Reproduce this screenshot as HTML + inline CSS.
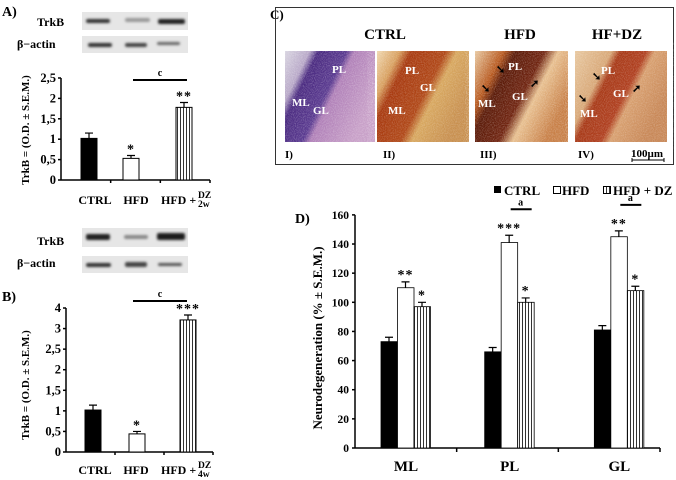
<!DOCTYPE html>
<html><head><meta charset="utf-8"><style>
body{margin:0;background:#fff}
svg{display:block;font-family:"Liberation Serif",serif;font-weight:bold}
</style></head><body>
<svg id="fig" width="676" height="480" viewBox="0 0 676 480">
<defs>
<pattern id="stripe" width="3" height="4" patternUnits="userSpaceOnUse"><rect width="3" height="4" fill="#fff"/><rect width="1" height="4" fill="#333"/></pattern>
<filter id="noise"><feTurbulence type="fractalNoise" baseFrequency="0.9" numOctaves="2" seed="3"/><feColorMatrix values="0 0 0 0 1  0 0 0 0 1  0 0 0 0 1  0 0 0 -1.6 1.0"/></filter>
<filter id="blur"><feGaussianBlur stdDeviation="1.2"/></filter>
</defs>

<text x="2" y="16" font-size="14">A)</text>
<text x="37" y="26" font-size="12">TrkB</text>
<text x="17" y="48" font-size="12">β−actin</text>
<g>
<rect x="82" y="12" width="106" height="18" fill="#e6e6e6"/>
<rect x="82" y="36" width="106" height="17" fill="#e6e6e6"/>
<g filter="url(#blur)">
<rect x="86" y="19" width="24" height="4" rx="2" fill="#333"/>
<rect x="125" y="18" width="25" height="4" rx="2" fill="#999"/>
<rect x="158" y="19" width="27" height="5" rx="2" fill="#222"/>
<rect x="88" y="43" width="24" height="4" rx="2" fill="#333"/>
<rect x="125" y="43" width="22" height="4" rx="2" fill="#444"/>
<rect x="157" y="42" width="23" height="3" rx="1.5" fill="#666"/>
</g></g>

<text x="37" y="245" font-size="12">TrkB</text>
<text x="17" y="267" font-size="12">β−actin</text>
<g>
<rect x="82" y="228" width="106" height="19" fill="#e6e6e6"/>
<rect x="82" y="256" width="106" height="17" fill="#e6e6e6"/>
<g filter="url(#blur)">
<rect x="86" y="234" width="24" height="6" rx="2" fill="#222"/>
<rect x="124" y="235" width="24" height="4" rx="2" fill="#888"/>
<rect x="157" y="233" width="28" height="7" rx="2" fill="#1a1a1a"/>
<rect x="86" y="263" width="25" height="4" rx="2" fill="#333"/>
<rect x="125" y="262" width="22" height="5" rx="2" fill="#444"/>
<rect x="158" y="263" width="24" height="3" rx="1.5" fill="#555"/>
</g></g>
<text x="2" y="301" font-size="14">B)</text>

<text x="270" y="19" font-size="13">C)</text>
<rect x="275.5" y="7.5" width="398" height="157" fill="none" stroke="#333"/>
<text x="385" y="39" font-size="15" text-anchor="middle">CTRL</text>
<text x="520" y="39" font-size="15" text-anchor="middle">HFD</text>
<text x="617" y="39" font-size="15" text-anchor="middle">HF+DZ</text>
<g>
<defs><linearGradient id="g1" x1="0" y1="0" x2="1" y2="0.5"><stop offset="0" stop-color="#d8d4e0"/><stop offset="0.22" stop-color="#b8a8c8"/><stop offset="0.3" stop-color="#4a2a80"/><stop offset="0.55" stop-color="#5a3a90"/><stop offset="0.62" stop-color="#b080b8"/><stop offset="1" stop-color="#c8a0c8"/></linearGradient></defs>
<rect x="285" y="51" width="90" height="91" fill="url(#g1)"/>
<rect x="285" y="51" width="90" height="91" filter="url(#noise)" opacity="0.35"/>
<text x="332" y="73" font-size="11" fill="#fff">PL</text><text x="292" y="106" font-size="11" fill="#fff">ML</text><text x="313" y="114" font-size="11" fill="#fff">GL</text>
</g>
<g>
<defs><linearGradient id="g2" x1="0" y1="0" x2="1" y2="0.5"><stop offset="0" stop-color="#f0d8b0"/><stop offset="0.2" stop-color="#d8a060"/><stop offset="0.3" stop-color="#a83a10"/><stop offset="0.6" stop-color="#b04818"/><stop offset="0.7" stop-color="#d8a860"/><stop offset="1" stop-color="#c89050"/></linearGradient></defs>
<rect x="377" y="51" width="92" height="91" fill="url(#g2)"/>
<rect x="377" y="51" width="92" height="91" filter="url(#noise)" opacity="0.3"/>
<text x="405" y="74" font-size="11" fill="#fff">PL</text><text x="420" y="91" font-size="11" fill="#fff">GL</text><text x="388" y="114" font-size="11" fill="#fff">ML</text>
</g>
<g>
<defs><linearGradient id="g3" x1="0" y1="0" x2="1" y2="0.5"><stop offset="0" stop-color="#e8c8a0"/><stop offset="0.25" stop-color="#b85a20"/><stop offset="0.35" stop-color="#5a1a08"/><stop offset="0.6" stop-color="#702410"/><stop offset="0.72" stop-color="#e8c090"/><stop offset="1" stop-color="#c88048"/></linearGradient></defs>
<rect x="475" y="51" width="93" height="91" fill="url(#g3)"/>
<rect x="475" y="51" width="93" height="91" filter="url(#noise)" opacity="0.35"/>
<text x="508" y="70" font-size="11" fill="#fff">PL</text><text x="512" y="100" font-size="11" fill="#fff">GL</text><text x="478" y="107" font-size="11" fill="#fff">ML</text>
<text x="496" y="73" font-size="11" fill="#000">➘</text><text x="481" y="92" font-size="11" fill="#000">➘</text><text x="530" y="87" font-size="11" fill="#000">➚</text>
</g>
<g>
<defs><linearGradient id="g4" x1="0" y1="0" x2="1" y2="0.5"><stop offset="0" stop-color="#e8c8a0"/><stop offset="0.32" stop-color="#d8a878"/><stop offset="0.4" stop-color="#a83a18"/><stop offset="0.62" stop-color="#b04020"/><stop offset="0.7" stop-color="#d8a070"/><stop offset="1" stop-color="#c88858"/></linearGradient></defs>
<rect x="575" y="51" width="92" height="91" fill="url(#g4)"/>
<rect x="575" y="51" width="92" height="91" filter="url(#noise)" opacity="0.3"/>
<text x="601" y="74" font-size="11" fill="#fff">PL</text><text x="613" y="97" font-size="11" fill="#fff">GL</text><text x="580" y="117" font-size="11" fill="#fff">ML</text>
<text x="592" y="80" font-size="11" fill="#000">➘</text><text x="578" y="102" font-size="11" fill="#000">➘</text><text x="632" y="92" font-size="11" fill="#000">➚</text>
</g>
<text x="285" y="158" font-size="11">I)</text>
<text x="383" y="158" font-size="11">II)</text>
<text x="480" y="158" font-size="11">III)</text>
<text x="578" y="158" font-size="11">IV)</text>
<text x="631" y="157" font-size="11">100µm</text>
<path d="M632 160H664M632 158v4M664 158v4" stroke="#000"/>

<g font-size="13">
<rect x="494" y="186" width="7" height="7" fill="#000"/><text x="504" y="195">CTRL</text>
<rect x="553.5" y="186.5" width="7" height="7" fill="#fff" stroke="#000"/><text x="562" y="195">HFD</text>
<rect x="603.5" y="186.5" width="7" height="7" fill="url(#stripe)" stroke="#000"/><text x="613" y="195">HFD + DZ</text>
</g>
<text x="295" y="223" font-size="14">D)</text>

<g id="chartA"></g>
<g id="chartB"></g>
<g id="chartD"></g>
</svg>
<script>
const aValues=[1.02,0.53,1.78];
const aErrors=[0.13,0.07,0.12];
const aTicks=['0','0,5','1','1,5','2','2,5'];
const aStars=['','*','**'];
const bValues=[1.02,0.44,3.21];
const bErrors=[0.12,0.06,0.12];
const bTicks=['0','0,5','1','1,5','2','2,5','3','4'];
const bStars=['','*','***'];
const dCategories=['ML','PL','GL'];
const dCtrl=[73,66,81];
const dHfd=[110,141,145];
const dHfdz=[97,100,108];
const dCtrlErr=[3,3,3];
const dHfdErr=[4,5,4];
const dHfdzErr=[3,3,3];
const dHfdStars=['**','***','**'];
const dHfdzStars=['*','*','*'];
const dTicks=[0,20,40,60,80,100,120,140,160];

const NS='http://www.w3.org/2000/svg';
function mk(p,tag,at,txt){const e=document.createElementNS(NS,tag);for(const k in at)e.setAttribute(k,at[k]);if(txt!==undefined)e.textContent=txt;p.appendChild(e);return e;}
const fills=['#000','#fff','url(#stripe)'];

function smallChart(g,vals,errs,ticks,stars,o){
  const y=v=>o.y0-v/0.5*o.step;
  const ax=mk(g,'path',{d:`M${o.x0} ${y(0)}H${o.x1}M${o.x0} ${y(0)}V${y((ticks.length-1)*0.5)}`,stroke:'#000','stroke-width':1.5,fill:'none'});
  
  
  ticks.forEach((t,i)=>{
    const tk=mk(g,'path',{d:`M${o.x0-3} ${y(i*0.5)}H${o.x0}`,stroke:'#000','stroke-width':1.5});
    
    
    const tl=mk(g,'text',{x:o.x0-5,y:y(i*0.5)+4,'font-size':12.5,'text-anchor':'end'},t);
    
    
  });
  [o.x0+(o.x1-o.x0)/3,o.x0+2*(o.x1-o.x0)/3,o.x1].forEach(x=>{mk(g,'path',{d:`M${x} ${y(0)}v3`,stroke:'#000','stroke-width':1.5});});
  vals.forEach((v,i)=>{
    const x=o.bx[i];
    mk(g,'path',{d:`M${x+8} ${y(v)}V${y(v+errs[i])}M${x+4} ${y(v+errs[i])}H${x+12}`,stroke:'#000','stroke-width':1.2});
    const b=mk(g,'rect',{x:x,y:y(v),width:16,height:y(0)-y(v),fill:fills[i],stroke:'#000','stroke-width':1});
    
    
    if(stars[i]){const s=mk(g,'text',{x:x+8,y:y(v+errs[i])-2,'font-size':14,'text-anchor':'middle','letter-spacing':'1'},stars[i]);
      
      }
  });
  mk(g,'path',{d:`M133 ${o.sig}H187`,stroke:'#000','stroke-width':2});
  mk(g,'text',{x:160,y:o.sig-4,'font-size':10,'text-anchor':'middle'},'c');
  const lbl=o.labY;
  mk(g,'text',{x:95,y:lbl,'font-size':12,'text-anchor':'middle'},'CTRL');
  mk(g,'text',{x:136,y:lbl,'font-size':12,'text-anchor':'middle'},'HFD');
  mk(g,'text',{x:161,y:lbl,'font-size':12},'HFD +');
  mk(g,'text',{x:198,y:lbl-6,'font-size':9.5},'DZ');
  mk(g,'text',{x:198,y:lbl+3,'font-size':9.5},o.wk);
  const t=mk(g,'text',{x:0,y:0,'font-size':11,'text-anchor':'middle',transform:`translate(${o.tx} ${o.ty}) rotate(-90)`},'TrkB = (O.D. ± S.E.M.)');
  
  
}
smallChart(document.getElementById('chartA'),aValues,aErrors,aTicks,aStars,{x0:61,x1:210,y0:180,step:20.4,bx:[81,123,176],sig:80,labY:204,wk:'2w',tx:29,ty:130});
smallChart(document.getElementById('chartB'),bValues,bErrors,bTicks,bStars,{x0:66,x1:213,y0:452,step:20.57,bx:[85,129,180],sig:301,labY:474,wk:'4w',tx:29,ty:385});

(function(){
  const g=document.getElementById('chartD');
  const x0=355,x1=660,y0=448,k=1.457;
  const y=v=>y0-v*k;
  mk(g,'path',{d:`M${x0} ${y0}H${x1}M${x0} ${y0}V${y(160)}`,stroke:'#000','stroke-width':1.5,fill:'none'});
  dTicks.forEach(t=>{
    mk(g,'path',{d:`M${x0-3} ${y(t)}H${x0}`,stroke:'#000','stroke-width':1.5});
    const l=mk(g,'text',{x:x0-6,y:y(t)+4,'font-size':11.5,'text-anchor':'end'},String(t));
    
    
  });
  const cw=(x1-x0)/3;
  [1,2,3].forEach(i=>mk(g,'path',{d:`M${x0+cw*i} ${y0}v4`,stroke:'#000','stroke-width':1.5}));
  const series=[dCtrl,dHfd,dHfdz],errs=[dCtrlErr,dHfdErr,dHfdzErr];
  dCategories.forEach((c,ci)=>{
    const start=x0+cw*ci+26+(ci===1?2:ci===2?10:0);
    series.forEach((s,si)=>{
      const v=s[ci],e=errs[si][ci],x=start+si*16.5;
      mk(g,'path',{d:`M${x+8} ${y(v)}V${y(v+e)}M${x+4} ${y(v+e)}H${x+12}`,stroke:'#000','stroke-width':1.2});
      const b=mk(g,'rect',{x:x,y:y(v),width:16.5,height:y0-y(v),fill:fills[si],stroke:'#000','stroke-width':0.8});
      
      
      const st=si===1?dHfdStars[ci]:si===2?dHfdzStars[ci]:'';
      if(st){const t=mk(g,'text',{x:x+8,y:y(v+e)-3,'font-size':14,'text-anchor':'middle','letter-spacing':'1'},st);
        
        }
    });
    if(ci>0){
      const top=y(dHfd[ci]+dHfdErr[ci])-26;
      mk(g,'path',{d:`M${start+26} ${top}H${start+47}`,stroke:'#000','stroke-width':2});
      mk(g,'text',{x:start+36,y:top-4,'font-size':10,'text-anchor':'middle'},'a');
    }
    const l=mk(g,'text',{x:start+25,y:471,'font-size':15,'text-anchor':'middle'},c);
    
    
  });
  const t=mk(g,'text',{x:0,y:0,'font-size':13,'text-anchor':'middle',transform:'translate(322 338) rotate(-90)'},'Neurodegeneration (% ± S.E.M.)');
  
  
})();
</script>
</body></html>
